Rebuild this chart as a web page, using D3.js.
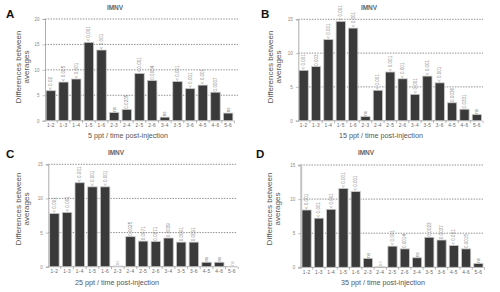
<!DOCTYPE html>
<html>
<head>
<meta charset="utf-8">
<script src="https://cdn.jsdelivr.net/npm/d3@7"></script>
<style>
  body { margin: 0; background: #fff; }
  svg { display: block; font-family: "Liberation Sans", Arial, sans-serif; }
</style>
</head>
<body>
<div id="chart"></div>
<script>
// Pairwise comparisons (time points)
const pairs = ["1-2", "1-3", "1-4", "1-5", "1-6", "2-3", "2-4", "2-5", "2-6", "3-4", "3-5", "3-6", "4-5", "4-6", "5-6"];

// Differences between averages
const valuesA = [5.9, 7.6, 8.2, 15.4, 13.9, 1.6, 2.2, 9.3, 7.9, 0.7, 7.7, 6.3, 7.0, 5.6, 1.5];
const valuesB = [7.45, 8.0, 12.0, 14.7, 13.7, 0.6, 4.5, 7.2, 6.2, 3.9, 6.6, 5.6, 2.65, 1.7, 0.9];
const valuesC = [7.8, 7.95, 12.3, 11.7, 11.7, 0.1, 4.4, 3.75, 3.7, 4.2, 3.6, 3.6, 0.65, 0.65, 0.03];
const valuesD = [8.4, 7.2, 8.5, 11.55, 11.1, 1.3, 0.05, 3.1, 2.7, 1.4, 4.4, 4.0, 3.2, 2.7, 0.55];

// P-value labels over the bars
const pA = ["< 0.02", "< 0.005", "< 0.001", "< 0.001", "< 0.001", "ns", "0.0235", "< 0.001", "0.0004", "ns", "< 0.001", "< 0.001", "< 0.001", "0.0007", "ns"];
const pB = ["< 0.001", "0.003", "< 0.001", "< 0.001", "< 0.001", "ns", "< 0.001", "< 0.001", "< 0.001", "< 0.001", "< 0.001", "< 0.001", "0.0036", "0.0331", "ns"];
const pC = ["< 0.001", "< 0.001", "< 0.001", "< 0.001", "< 0.001", "ns", "0.0025", "0.0071", "0.0071", "0.0039", "0.0091", "0.0091", "ns", "ns", "ns"];
const pD = ["< 0.001", "< 0.001", "< 0.001", "< 0.001", "< 0.001", "ns", "ns", "< 0.001", "0.0014", "ns", "0.0023", "0.0037", "< 0.001", "0.0015", "ns"];

// Y tick values
const ticksA = [0, 5, 10, 15, 20];
const ticks15 = [0, 5, 10, 15];

// X axis titles
const xTitles = ["5 ppt / time post-injection", "15 ppt / time post-injection", "25 ppt / time post-injection", "35 ppt / time post-injection"];
const letters = ["A", "B", "C", "D"];

const width = 500, height = 292;

const svg = d3.select("#chart").append("svg")
    .attr("width", width)
    .attr("height", height);

// Panel layout
const panels = [
    { values: valuesA, p: pA, ticks: ticksA, axisX: 45, bandL: 45.5, bandR: 233.5, gridR: 238, top: 19, zero: 120.7,
      letterX: 6, letterY: 18, titleX: 115, titleY: 10, yLabX: 20.5, yLabY: 67, xLabX: 128, xLabY: 138 },
    { values: valuesB, p: pB, ticks: ticks15, axisX: 298.3, bandL: 298.4, bandR: 482.1, gridR: 483, top: 19.3, zero: 120.7,
      letterX: 261, letterY: 18, titleX: 369, titleY: 10, yLabX: 273, yLabY: 67, xLabX: 381, xLabY: 138 },
    { values: valuesC, p: pC, ticks: ticks15, axisX: 48.3, bandL: 49, bandR: 237.3, gridR: 237, top: 164.3, zero: 266.7,
      letterX: 6, letterY: 158, titleX: 116, titleY: 155, yLabX: 20.5, yLabY: 209, xLabX: 117, xLabY: 285 },
    { values: valuesD, p: pD, ticks: ticks15, axisX: 300.7, bandL: 301.4, bandR: 483.6, gridR: 483, top: 165, zero: 267.3,
      letterX: 256, letterY: 158, titleX: 366, titleY: 155, yLabX: 272, yLabY: 209, xLabX: 383, xLabY: 285 }
];

panels.forEach((cfg, i) => {
    const g = svg.append("g");

    const x = d3.scaleBand()
        .domain(pairs)
        .range([cfg.bandL, cfg.bandR])
        .paddingInner(0.25)
        .paddingOuter(0.05);

    const y = d3.scaleLinear()
        .domain([0, d3.max(cfg.ticks)])
        .range([cfg.zero, cfg.top]);

    // Dotted gridlines
    g.selectAll(".grid")
        .data(cfg.ticks.filter(t => t > 0))
        .enter()
        .append("line")
        .attr("x1", cfg.axisX)
        .attr("x2", cfg.gridR)
        .attr("y1", d => y(d))
        .attr("y2", d => y(d))
        .attr("stroke", "#777")
        .attr("stroke-width", 0.8)
        .attr("stroke-dasharray", "1.5,1.2");

    // Y axis
    const yAxis = g.append("g")
        .attr("transform", `translate(${cfg.axisX},0)`)
        .call(d3.axisLeft(y).tickValues(cfg.ticks).tickSize(2.5).tickPadding(3));
    yAxis.select(".domain")
        .attr("stroke", i === 3 ? "#c4c4c4" : "#999")
        .attr("stroke-width", i === 3 ? 2 : 0.8);
    yAxis.selectAll(".tick line").attr("stroke", "#999").attr("stroke-width", 0.6);
    yAxis.selectAll(".tick text")
        .attr("fill", "#888")
        .style("font-size", "4.5px");

    // Baseline
    g.append("line")
        .attr("x1", cfg.axisX)
        .attr("x2", cfg.bandR)
        .attr("y1", y(0))
        .attr("y2", y(0))
        .attr("stroke", "#999")
        .attr("stroke-width", 0.8);

    // Bars
    g.selectAll(".bar")
        .data(pairs)
        .enter()
        .append("rect")
        .attr("x", d => x(d))
        .attr("y", (d, j) => y(cfg.values[j]))
        .attr("width", x.bandwidth())
        .attr("height", (d, j) => y(0) - y(cfg.values[j]))
        .attr("fill", "#3a3a3a")
        .attr("stroke", "#c8c8c8")
        .attr("stroke-width", 0.8);

    // Separator ticks below the baseline
    g.selectAll(".sep")
        .data(pairs)
        .enter()
        .append("line")
        .attr("x1", d => x(d) + x.bandwidth() + x.step() * 0.125)
        .attr("x2", d => x(d) + x.bandwidth() + x.step() * 0.125)
        .attr("y1", y(0))
        .attr("y2", y(0) + 2.5)
        .attr("stroke", "#888")
        .attr("stroke-width", 0.6);

    // Category labels
    g.selectAll(".cat")
        .data(pairs)
        .enter()
        .append("text")
        .attr("x", d => x(d) + x.bandwidth() / 2)
        .attr("y", y(0) + 6.5)
        .attr("text-anchor", "middle")
        .attr("fill", "#666")
        .style("font-size", "4.8px")
        .style("letter-spacing", "0.3px")
        .text(d => d);

    // P-value labels, rotated
    g.selectAll(".pv")
        .data(pairs)
        .enter()
        .append("text")
        .attr("transform", (d, j) => `translate(${x(d) + x.bandwidth() / 2 + 1.6},${y(cfg.values[j]) - 0.8}) rotate(-90)`)
        .attr("fill", (d, j) => cfg.p[j] === "ns" && cfg.values[j] < 0.2 ? "#bbb" : "#888")
        .style("font-size", "4.6px")
        .text((d, j) => cfg.p[j]);

    // Panel letter
    g.append("text")
        .attr("x", cfg.letterX)
        .attr("y", cfg.letterY)
        .attr("font-weight", "bold")
        .attr("fill", "#111")
        .style("font-size", "11.5px")
        .text(letters[i]);

    // Title
    g.append("text")
        .attr("x", cfg.titleX)
        .attr("y", cfg.titleY)
        .attr("text-anchor", "middle")
        .attr("font-weight", "bold")
        .attr("fill", "#666")
        .style("font-size", "6.5px")
        .text("IMNV");

    // Y axis title, two lines
    const yl = g.append("text")
        .attr("transform", `translate(${cfg.yLabX},${cfg.yLabY}) rotate(-90)`)
        .attr("text-anchor", "middle")
        .attr("fill", "#555")
        .style("font-size", "8px");
    yl.append("tspan").attr("x", 0).attr("dy", 0).text("Differences between");
    yl.append("tspan").attr("x", 0).attr("dy", "1.0em").text("averages");

    // X axis title
    g.append("text")
        .attr("x", cfg.xLabX)
        .attr("y", cfg.xLabY)
        .attr("text-anchor", "middle")
        .attr("fill", "#555")
        .style("font-size", "7.2px")
        .text(xTitles[i]);
});
</script>
</body>
</html>
